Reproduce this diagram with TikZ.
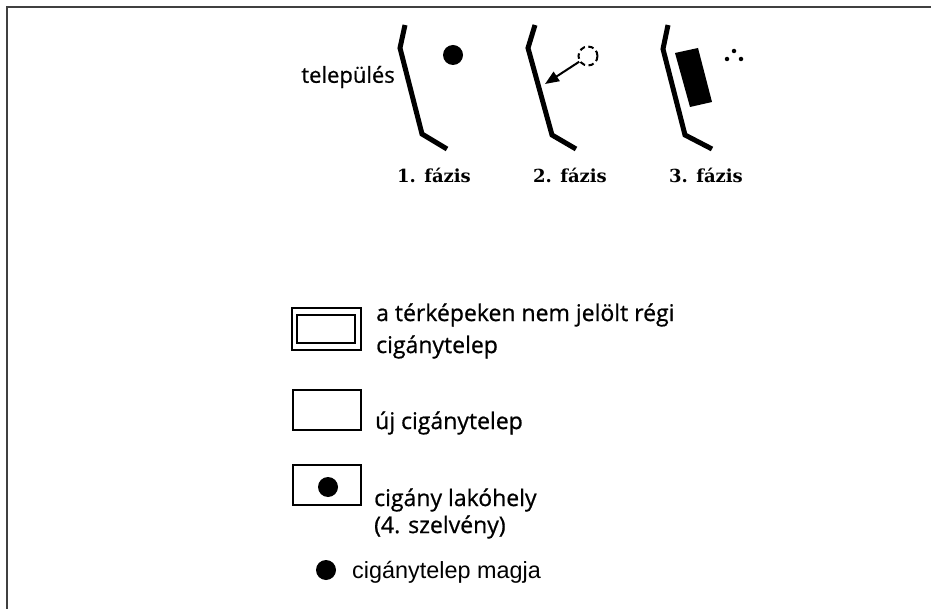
\documentclass[tikz,border=0pt]{standalone}
\usepackage{fontspec}
\setmainfont{Liberation Serif}
\newfontfamily\lucid[FakeBold=0.7]{Open Sans}
\newfontfamily\helv{Liberation Sans}
\newfontfamily\slab{DejaVu Serif}
\usetikzlibrary{arrows.meta}
\tikzset{
  road/.style={line width=5pt, line join=miter, line cap=butt},
  lab/.style={font=\lucid\fontsize{23}{28}\selectfont, inner sep=0pt, anchor=west},
  phase/.style={font=\slab\bfseries\fontsize{18}{22}\selectfont, inner sep=0pt},
  blackdot/.style={circle, fill=black, inner sep=0pt, minimum size=20pt},
  legbox/.style={draw, line width=1.6pt},
}
\begin{document}
\begin{tikzpicture}[x=1pt,y=-1pt]
\useasboundingbox (0,0) rectangle (931,609);
\fill[white] (0,0) rectangle (931,609);
% frame
\draw[line width=1.6pt, black!75] (7,609) -- (7,7) -- (931,7);
% phase 1
\draw[road] (405,25) -- (400,48) -- (422,134) -- (447,149);
\node[blackdot] (d1) at (453,55) {};
\node[font=\lucid\fontsize{22}{26}\selectfont, inner sep=0pt, anchor=east] (tel) at (395,77) {település};
\node[phase] (f1) at (434,175) {1. fázis};
% phase 2
\draw[road] (535,25) -- (528,48) -- (552,135) -- (576,149);
\node[circle, draw, dash pattern=on 5.5pt off 3.5pt, line width=2pt, minimum size=19pt, inner sep=0pt] (c2) at (588,56) {};
\coordinate (p2) at (545,84);
\draw[line width=2pt, -{Triangle[length=14pt,width=11pt]}] (c2) -- (p2);
\node[phase] (f2) at (570,175) {2. fázis};
% phase 3
\draw[road] (668,25) -- (663,49) -- (685,135) -- (712,149);
\fill (675,53) -- (698,48) -- (712,102) -- (690,107) -- cycle;
\node[circle, fill=black, inner sep=0pt, minimum size=4.5pt] (t1) at (734,51) {};
\node[circle, fill=black, inner sep=0pt, minimum size=4.5pt] (t2) at (727,59) {};
\node[circle, fill=black, inner sep=0pt, minimum size=4.5pt] (t3) at (741,59) {};
\node[phase] (f3) at (706,175) {3. fázis};
% legend
\draw[legbox] (292,308) rectangle (361,350);
\draw[legbox] (297,315) rectangle (355,343);
\node[lab] (l1a) at (376,315) {a térképeken nem jelölt régi};
\node[lab] (l1b) at (376,347) {cigánytelep};
\draw[legbox] (293,390) rectangle (361,430);
\node[lab] (l2) at (375,423) {új cigánytelep};
\draw[legbox] (293,465) rectangle (361,505);
\node[blackdot] (d3) at (328,487) {};
\node[lab] (l3a) at (374,500) {cigány lakóhely};
\node[lab] (l3b) at (374,527) {(4. szelvény)};
\node[blackdot] (d4) at (326,570) {};
\node[font=\helv\fontsize{23.4}{28}\selectfont, inner sep=0pt, anchor=west] (l4) at (352,572) {cigánytelep magja};
\end{tikzpicture}
\end{document}
